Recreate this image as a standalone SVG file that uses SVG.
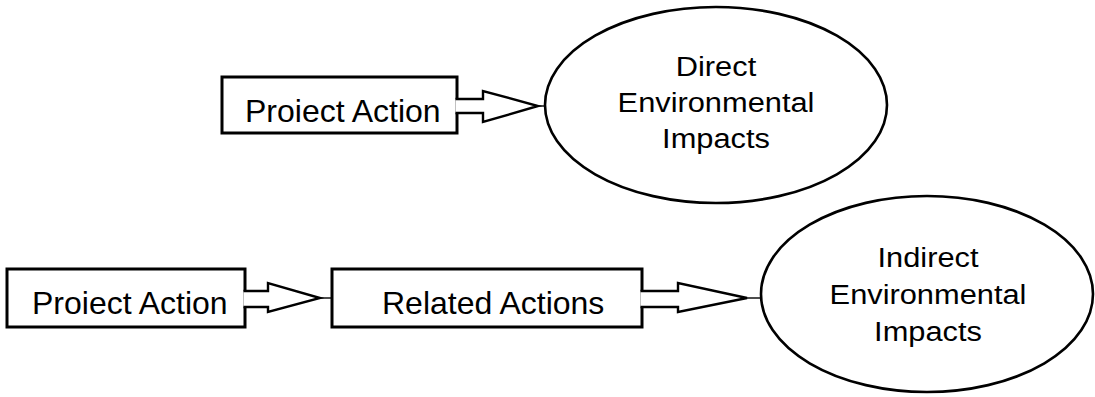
<svg xmlns="http://www.w3.org/2000/svg" width="1095" height="397" viewBox="0 0 1095 397">
<style>
.box{fill:#fff;stroke:#000;stroke-width:3}
.ell{fill:#fff;stroke:#000;stroke-width:2.6}
.arr{fill:#fff;stroke:#000;stroke-width:2.4;stroke-linejoin:miter}
.stub{stroke:#000;stroke-width:1.4}
.bt{font-family:"Liberation Sans",Arial,sans-serif;font-size:32px;fill:#000}
.et{font-family:"Liberation Sans",Arial,sans-serif;font-size:28px;fill:#000;text-anchor:middle}
</style>
<rect width="1095" height="397" fill="#fff"/>
<g id="project-action-1">
<rect class="box" x="222" y="77" width="235" height="56"/>
<text class="bt" x="245" y="122">Proiect Action</text>
</g>
<g id="direct-impacts">
<ellipse class="ell" cx="716" cy="105" rx="171" ry="98"/>
<g transform="translate(716,0) scale(1.1,1)">
<text class="et" x="0" y="76">Direct</text>
<text class="et" x="0" y="112">Environmental</text>
<text class="et" x="0" y="148">Impacts</text>
</g>
</g>
<g id="project-action-2">
<rect class="box" x="7" y="269" width="238" height="58"/>
<text class="bt" x="32" y="314">Proiect Action</text>
</g>
<g id="related-actions">
<rect class="box" x="332" y="269" width="310" height="58"/>
<text class="bt" x="382" y="314">Related Actions</text>
</g>
<g id="indirect-impacts">
<ellipse class="ell" cx="927" cy="294" rx="166" ry="98"/>
<g transform="translate(928,0) scale(1.1,1)">
<text class="et" x="0" y="267">Indirect</text>
<text class="et" x="0" y="304">Environmental</text>
<text class="et" x="0" y="341">Impacts</text>
</g>
</g>
<g id="connectors">
<path class="arr" d="M455.5,99 L483,99 L483,91 L538,106 L483,122 L483,113 L455.5,113"/>
<line class="stub" x1="538" y1="106" x2="546" y2="106"/>
<path class="arr" d="M243.5,291 L268,291 L268,283 L320,298 L268,312 L268,307 L243.5,307"/>
<line class="stub" x1="320" y1="298" x2="332" y2="298"/>
<path class="arr" d="M640.5,291 L678,291 L678,283 L747,298 L678,312 L678,307 L640.5,307"/>
<line class="stub" x1="747" y1="298" x2="761" y2="298"/>
</g>
</svg>
